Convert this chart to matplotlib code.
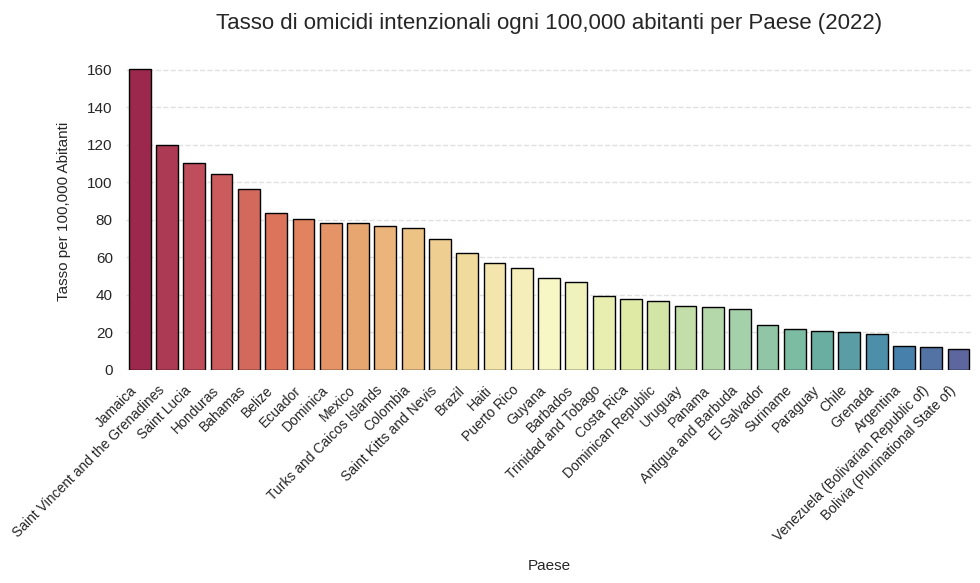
import numpy as np
import pandas as pd
import matplotlib
matplotlib.use("Agg")
import matplotlib.pyplot as plt
import seaborn as sns

# -----------------------------
# Data
# -----------------------------
countries = [
    "Jamaica", "Saint Vincent and the Grenadines", "Saint Lucia", "Honduras",
    "Bahamas", "Belize", "Ecuador", "Dominica", "Mexico",
    "Turks and Caicos Islands", "Colombia", "Saint Kitts and Nevis", "Brazil",
    "Haiti", "Puerto Rico", "Guyana", "Barbados", "Trinidad and Tobago",
    "Costa Rica", "Dominican Republic", "Uruguay", "Panama",
    "Antigua and Barbuda", "El Salvador", "Suriname", "Paraguay", "Chile",
    "Grenada", "Argentina", "Venezuela (Bolivarian Republic of)",
    "Bolivia (Plurinational State of)",
]
rates = [
    160.5, 120.0, 110.4, 104.2, 96.3, 83.5, 80.6, 78.2, 78.2, 76.6, 75.9,
    70.0, 62.2, 56.9, 54.1, 48.9, 46.8, 39.3, 37.7, 36.7, 34.0, 33.5, 32.4,
    23.7, 21.8, 20.7, 20.2, 19.1, 12.7, 12.2, 11.1,
]

df = pd.DataFrame({"Paese": countries, "Tasso": rates})

# -----------------------------
# Plot
# -----------------------------
sns.set_theme(style="whitegrid")
plt.rcParams["font.family"] = ["Liberation Sans", "DejaVu Sans"]

fig = plt.figure(figsize=(9.8, 5.83), dpi=100)
ax = fig.add_axes([0.1286, 0.3654, 0.8634, 0.5426])

sns.barplot(data=df, x="Paese", y="Tasso", hue="Paese", legend=False,
            palette=sns.color_palette("Spectral", len(df)),
            edgecolor="black", linewidth=1, ax=ax)

ax.set_title("Tasso di omicidi intenzionali ogni 100,000 abitanti per Paese (2022)",
             fontsize=16, pad=18, color="#262626")
ax.set_xlabel("Paese", fontsize=11, labelpad=11)
ax.set_ylabel("Tasso per 100,000 Abitanti", fontsize=11, labelpad=12)
ax.tick_params(axis="y", labelsize=11)
ax.tick_params(axis="x", labelsize=10)
plt.setp(ax.get_xticklabels(), rotation=45, ha="right")

ax.set_yticks(np.arange(0, 161, 20))
ax.grid(axis="y", linestyle="--", alpha=0.6)
ax.grid(axis="x", visible=False)
sns.despine(left=True, bottom=True)

fig.savefig("out.png", dpi=100)
